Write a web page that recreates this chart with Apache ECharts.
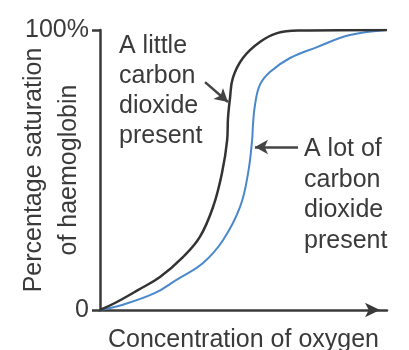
<!DOCTYPE html>
<html>
<head>
<meta charset="utf-8">
<script src="https://cdn.jsdelivr.net/npm/echarts@6/dist/echarts.min.js"></script>
<style>
  html, body { margin: 0; padding: 0; background: #fff; }
  #chart { width: 409px; height: 350px; }
</style>
</head>
<body>
<div id="chart"></div>
<script>
// Oxygen dissociation curves of haemoglobin (Bohr effect)
// x: concentration of oxygen (arbitrary 0-100), y: % saturation
var lowCO2 = [
  [0, 0], [5.2, 2.5], [13.2, 7.1], [20.9, 11.8], [28.9, 18.9], [34.8, 26.1],
  [39.4, 36.8], [42.5, 48.9], [44.3, 60.7], [44.6, 68.6], [45.3, 75.7],
  [46.3, 82.9], [49.8, 90.0], [55.7, 95.7], [61.7, 98.9], [69.7, 99.8], [100, 100]
];
var highCO2 = [
  [0, 0], [7.7, 1.8], [19.2, 6.1], [26.5, 10.7], [35.9, 16.8], [42.9, 25.0],
  [48.8, 36.8], [51.6, 48.9], [53.0, 60.7], [53.3, 66.1], [54.0, 73.2],
  [55.7, 80.4], [59.2, 85.0], [66.2, 90.0], [75.6, 93.9], [87.1, 98.2], [100, 100]
];
var yTickLabels = { 0: '0', 100: '100%' };
var xAxisTitle = 'Concentration of oxygen';
var yAxisTitle = 'Percentage saturation\nof haemoglobin';
var lowLabel = 'A little\ncarbon\ndioxide\npresent';
var highLabel = 'A lot of\ncarbon\ndioxide\npresent';
// arrow end points (data space) pointing at each curve
var lowArrow = [[36.6, 81.4], [44.6, 74.3]];
var highArrow = [[69.0, 58.2], [54.0, 58.2]];

var FONT = '"Liberation Sans", Arial, sans-serif';
var INK = '#3a3a3a';

var chart = echarts.init(document.getElementById('chart'), null, { renderer: 'canvas' });
chart.setOption({
  backgroundColor: '#ffffff',
  animation: false,
  grid: { left: 100, right: 22, top: 30, bottom: 40, containLabel: false, outerBoundsMode: 'none' },
  xAxis: {
    type: 'value', min: 0, max: 100,
    name: xAxisTitle, nameLocation: 'middle', nameGap: 18,
    nameTextStyle: { fontFamily: FONT, fontSize: 25, color: INK },
    axisLine: { show: true, symbol: ['none', 'arrow'], symbolSize: [11, 15], symbolOffset: [0, -7],
      lineStyle: { color: INK, width: 2.5 } },
    axisTick: { show: false }, axisLabel: { show: false }, splitLine: { show: false }
  },
  yAxis: {
    type: 'value', min: 0, max: 100, interval: 100,
    name: yAxisTitle, nameLocation: 'middle', nameRotate: 90, nameGap: 13,
    nameMoveOverlap: false,
    nameTextStyle: { fontFamily: FONT, fontSize: 25, color: INK, lineHeight: 35 },
    axisLine: { show: true, lineStyle: { color: INK, width: 2.5 } },
    axisTick: { show: true, length: 8, lineStyle: { color: INK, width: 2.5 } },
    axisLabel: { margin: 11, fontFamily: FONT, fontSize: 25, color: INK,
      formatter: function (v) { return yTickLabels[v] || ''; } },
    splitLine: { show: false }
  },
  series: [
    {
      type: 'line', data: lowCO2, smooth: 0.4, showSymbol: false,
      lineStyle: { color: '#333333', width: 2.5 }, z: 3,
      markLine: {
        silent: true, symbol: ['none', 'arrow'], symbolSize: [11, 13],
        label: { show: false },
        lineStyle: { color: '#444', width: 2.5, type: 'solid' },
        data: [[{ coord: lowArrow[0] }, { coord: lowArrow[1] }]]
      }
    },
    {
      type: 'line', data: highCO2, smooth: 0.4, showSymbol: false,
      lineStyle: { color: '#4a88cc', width: 2 }, z: 2,
      markLine: {
        silent: true, symbol: ['none', 'arrow'], symbolSize: [11, 13],
        label: { show: false },
        lineStyle: { color: '#444', width: 2.5, type: 'solid' },
        data: [[{ coord: highArrow[0] }, { coord: highArrow[1] }]]
      }
    }
  ],
  graphic: [
    { type: 'text', left: 119, top: 31,
      style: { text: lowLabel, fontFamily: FONT, fontSize: 25, lineHeight: 30, fill: INK, align: 'center' } },
    { type: 'text', left: 304, top: 134,
      style: { text: highLabel, fontFamily: FONT, fontSize: 25, lineHeight: 30.5, fill: INK, align: 'center' } }
  ]
});
</script>
</body>
</html>
